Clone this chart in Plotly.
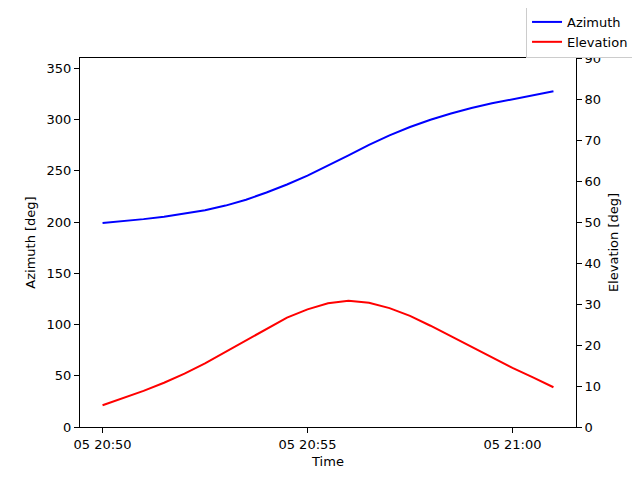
import plotly.graph_objects as go

# sample times (30 s steps)
times = [
    "2024-01-05 20:50:00", "2024-01-05 20:50:30", "2024-01-05 20:51:00",
    "2024-01-05 20:51:30", "2024-01-05 20:52:00", "2024-01-05 20:52:30",
    "2024-01-05 20:53:00", "2024-01-05 20:53:30", "2024-01-05 20:54:00",
    "2024-01-05 20:54:30", "2024-01-05 20:55:00", "2024-01-05 20:55:30",
    "2024-01-05 20:56:00", "2024-01-05 20:56:30", "2024-01-05 20:57:00",
    "2024-01-05 20:57:30", "2024-01-05 20:58:00", "2024-01-05 20:58:30",
    "2024-01-05 20:59:00", "2024-01-05 20:59:30", "2024-01-05 21:00:00",
    "2024-01-05 21:00:30", "2024-01-05 21:01:00",
]

azimuth = [199.0, 200.8, 202.8, 205.2, 208.0, 211.5, 216.0, 221.7, 228.8,
           236.6, 245.3, 254.8, 265.0, 275.3, 284.5, 292.7, 299.8, 305.8,
           311.2, 315.8, 319.8, 323.5, 327.5]

elevation = [5.3, 7.0, 8.8, 10.8, 13.0, 15.5, 18.3, 21.1, 24.1, 26.7, 28.7,
             30.2, 30.8, 30.3, 29.0, 27.1, 24.7, 22.1, 19.4, 16.8, 14.4,
             12.1, 9.7]

font = dict(family="DejaVu Sans", size=13, color="black")

fig = go.Figure()
fig.add_trace(go.Scatter(x=times, y=azimuth, name="Azimuth", mode="lines",
                         line=dict(color="blue", width=2)))
fig.add_trace(go.Scatter(x=times, y=elevation, name="Elevation", mode="lines",
                         line=dict(color="red", width=2), yaxis="y2"))

axis_common = dict(showline=True, linecolor="black", linewidth=1,
                   ticks="outside", ticklen=5, tickcolor="black",
                   showgrid=False, zeroline=False, tickfont=font,
                   automargin=False)

# page body has an 8px margin, so the figure is a bit smaller than the window
fig.update_layout(
    width=632, height=472,
    margin=dict(l=72, r=64, t=50, b=53, autoexpand=False),
    paper_bgcolor="white", plot_bgcolor="white",
    font=font,
    xaxis=dict(axis_common, mirror=True,
               range=["2024-01-05 20:49:27", "2024-01-05 21:01:33"],
               dtick=300000, tick0="2024-01-05 20:50:00",
               tickformat="%d %H:%M",
               title=dict(text="Time", font=font, standoff=6)),
    yaxis=dict(axis_common, range=[0, 360], dtick=50,
               title=dict(text="Azimuth [deg]", font=font, standoff=8)),
    yaxis2=dict(axis_common, range=[0, 90], dtick=10, overlaying="y",
                side="right",
                title=dict(text="Elevation [deg]", font=font, standoff=8)),
    legend=dict(x=1.117, xanchor="right", y=1.141, yanchor="top",
                bordercolor="#cccccc", borderwidth=1, bgcolor="white",
                font=font),
)

fig.write_html("out.html")
